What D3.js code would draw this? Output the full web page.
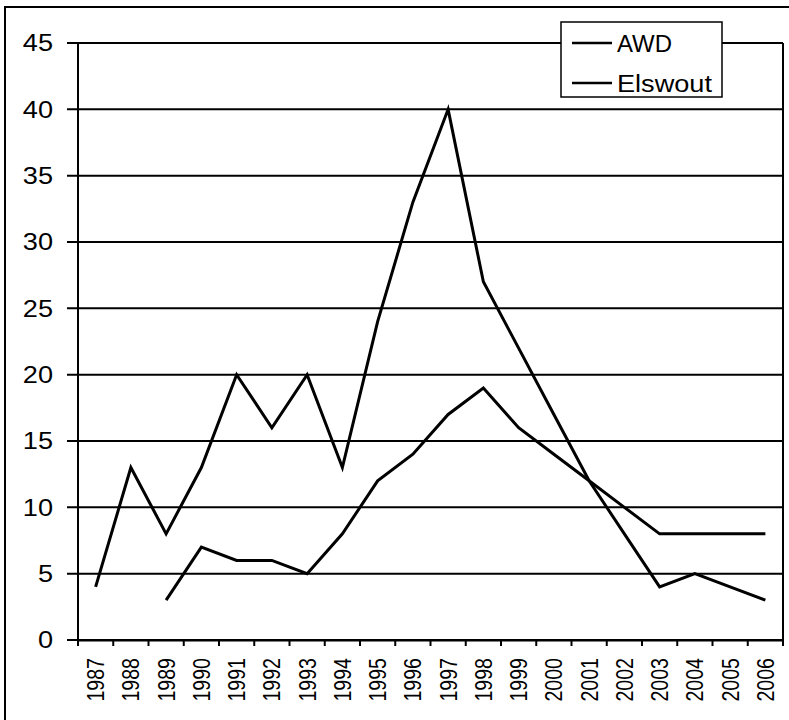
<!DOCTYPE html>
<html lang="en">
<head>
<meta charset="UTF-8" />
<title>AWD / Elswout</title>
<script src="https://d3js.org/d3.v7.min.js"></script>
<style>
    body { margin: 0; background: #fff; }
    svg { display: block; }
    text { font-family: "Liberation Sans", Arial, sans-serif; fill: #000; }
    .grid line { stroke: #000; stroke-width: 2px; }
    .series { fill: none; stroke: #000; stroke-width: 3px; stroke-linejoin: miter; }
</style>
</head>
<body>
<svg width="789" height="720"></svg>
<script>
    // values
    const years = ["1987", "1988", "1989", "1990", "1991", "1992", "1993", "1994", "1995", "1996",
        "1997", "1998", "1999", "2000", "2001", "2002", "2003", "2004", "2005", "2006"];
    const awd = [4, 13, 8, 13, 20, 16, 20, 13, 24, 33, 40, 27, 22, 17, 12, 8, 4, 5, 4, 3];
    const elswout = [null, null, 3, 7, 6, 6, 5, 8, 12, 14, 17, 19, 16, 14, 12, 10, 8, 8, 8, 8];
    const yTicks = [0, 5, 10, 15, 20, 25, 30, 35, 40, 45];
    const seriesNames = ["AWD", "Elswout"];

    const svg = d3.select("svg");
    const plotLeft = 78, plotRight = 783, plotTop = 43, plotBottom = 640;

    const x = d3.scaleBand().domain(years).range([plotLeft, plotRight]);
    const y = d3.scaleLinear().domain([0, 45]).range([plotBottom, plotTop]);

    // outer chart border
    svg.append("rect")
        .attr("x", 5).attr("y", 7)
        .attr("width", 800).attr("height", 730)
        .attr("fill", "none").attr("stroke", "#000").attr("stroke-width", 2);

    // gridlines + left ticks
    svg.append("g").attr("class", "grid")
        .selectAll("line")
        .data(yTicks)
        .join("line")
        .attr("x1", plotLeft - 11).attr("x2", plotRight)
        .attr("y1", d => y(d)).attr("y2", d => y(d));

    // plot area right edge and y axis
    svg.append("line").attr("x1", plotRight).attr("x2", plotRight).attr("y1", plotTop).attr("y2", plotBottom)
        .attr("stroke", "#000").attr("stroke-width", 2);
    svg.append("line").attr("x1", plotLeft).attr("x2", plotLeft).attr("y1", plotTop).attr("y2", plotBottom)
        .attr("stroke", "#000").attr("stroke-width", 2);

    // y labels
    svg.append("g").selectAll("text")
        .data(yTicks)
        .join("text")
        .attr("transform", d => `translate(53,${y(d)}) scale(1.18,1)`)
        .attr("text-anchor", "end")
        .attr("dy", "0.36em")
        .attr("font-size", 23)
        .text(d => d);

    // x axis line
    const xAxis = d3.axisBottom(x).tickSize(0).tickFormat("");
    const xg = svg.append("g").attr("transform", `translate(0,${plotBottom})`).call(xAxis);
    xg.select(".domain").attr("stroke-width", 2);
    // ticks at category boundaries
    svg.append("g").selectAll("line")
        .data(years.concat(["end"]))
        .join("line")
        .attr("x1", (d, i) => plotLeft + i * x.step())
        .attr("x2", (d, i) => plotLeft + i * x.step())
        .attr("y1", plotBottom).attr("y2", plotBottom + 6)
        .attr("stroke", "#000").attr("stroke-width", 2);

    // x labels, rotated
    svg.append("g").selectAll("text")
        .data(years)
        .join("text")
        .attr("transform", d => `translate(${x(d) + x.bandwidth() / 2},658) scale(1.2,1) rotate(-90)`)
        .attr("text-anchor", "end")
        .attr("dy", "0.36em")
        .attr("font-size", 19.6)
        .text(d => d);

    // series
    const line = d3.line()
        .defined(d => d != null)
        .x((d, i) => x(years[i]) + x.bandwidth() / 2)
        .y(d => y(d));

    svg.append("path").attr("class", "series").attr("d", line(elswout));
    svg.append("path").attr("class", "series").attr("d", line(awd));

    // legend
    const lg = svg.append("g");
    lg.append("rect")
        .attr("x", 561).attr("y", 22).attr("width", 161).attr("height", 75)
        .attr("fill", "#fff").attr("stroke", "#000").attr("stroke-width", 1.5);
    const legendY = [43, 83];
    const legendW = [55, 95];
    seriesNames.forEach((name, i) => {
        lg.append("line")
            .attr("x1", 572).attr("x2", 612)
            .attr("y1", legendY[i]).attr("y2", legendY[i])
            .attr("stroke", "#000").attr("stroke-width", 2.5);
        lg.append("text")
            .attr("x", 617).attr("y", legendY[i] + 8.5)
            .attr("font-size", 23)
            .attr("textLength", legendW[i])
            .attr("lengthAdjust", "spacingAndGlyphs")
            .text(name);
    });
</script>
</body>
</html>
